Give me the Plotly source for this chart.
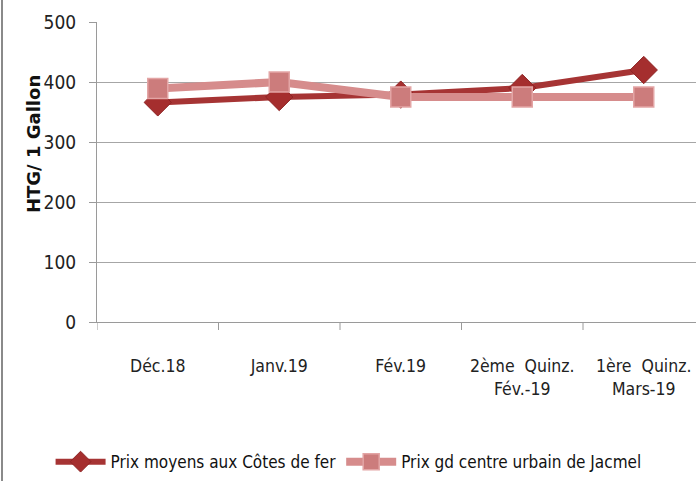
import plotly.graph_objects as go

categories = ["Déc.18", "Janv.19", "Fév.19", "2ème  Quinz.<br>Fév.-19", "1ère  Quinz.<br>Mars-19"]
cotes_de_fer = [366, 375, 379, 390, 420]
jacmel = [389, 400, 375, 375, 375]
series_names = ["Prix moyens aux Côtes de fer", "Prix gd centre urbain de Jacmel"]
y_title = "HTG/ 1 Gallon"

FONT = "DejaVu Sans Condensed, Liberation Sans Narrow, Arial Narrow, sans-serif"

fig = go.Figure()
fig.add_trace(go.Scatter(
    x=list(range(len(categories))), y=cotes_de_fer, name=series_names[0],
    mode="lines+markers",
    line=dict(color="#A63434", width=6),
    marker=dict(symbol="diamond", size=21, color="#A52E2E",
                line=dict(color="#8E2424", width=1)),
))
fig.add_trace(go.Scatter(
    x=list(range(len(categories))), y=jacmel, name=series_names[1],
    mode="lines+markers",
    line=dict(color="#D68C8C", width=8),
    marker=dict(symbol="square", size=20, color="#CC7C7C",
                line=dict(color="#E3A5A5", width=1.5)),
))

fig.update_layout(
    width=696, height=481,
    margin=dict(l=97, r=0, t=22, b=159, autoexpand=False),
    paper_bgcolor="white", plot_bgcolor="white",
    font=dict(family=FONT, size=17, color="#222"),
    showlegend=True,
    legend=dict(orientation="h", x=0.42, xanchor="center", y=-0.467, yanchor="middle",
                font=dict(family=FONT, size=17, color="#111"),
                itemwidth=50, tracegroupgap=0),
    xaxis=dict(
        range=[-0.5, -0.5 + 599 / 121.5],
        tickmode="array", tickvals=list(range(len(categories))), ticktext=categories,
        showgrid=False, zeroline=False, automargin=False,
        showline=True, linecolor="#9A9A9A", linewidth=1,
        ticks="", ticklabelstandoff=28,
        tickfont=dict(family=FONT, size=17.5, color="#222"),
    ),
    yaxis=dict(
        range=[0, 500], dtick=100, tick0=0, automargin=False,
        showgrid=True, gridcolor="#A6A6A6", gridwidth=1,
        zeroline=False,
        showline=True, linecolor="#9A9A9A", linewidth=1,
        ticks="outside", ticklen=7, tickcolor="#9A9A9A",
        ticklabelstandoff=9,
        tickfont=dict(family=FONT, size=19, color="#222"),
    ),
    annotations=[
        dict(text="<b>" + y_title + "</b>", xref="paper", yref="paper",
             x=(33 - 97) / 599, y=(322 - 144) / 300, xanchor="center", yanchor="middle",
             textangle=-90, showarrow=False,
             font=dict(family="DejaVu Sans, Liberation Sans, Arial, sans-serif", size=18, color="#111")),
    ],
)

shapes = []
for b in range(len(categories)):
    xb = b - 0.5
    shapes.append(dict(type="line", xref="x", yref="paper", x0=xb, x1=xb, y0=0, y1=-8 / 300,
                       line=dict(color="#9A9A9A", width=1)))
# chart border on the left edge
shapes.append(dict(type="line", xref="paper", yref="paper",
                   x0=(2 - 97) / 599, x1=(2 - 97) / 599, y0=322 / 300, y1=(322 - 481) / 300,
                   line=dict(color="#8A8A8A", width=2)))
fig.update_layout(shapes=shapes)

# remove the default 8px page margin so the 696x481 figure fills the window exactly
fig.write_html("out.html", config={"displayModeBar": False},
               post_script="document.body.style.margin='0px';")
